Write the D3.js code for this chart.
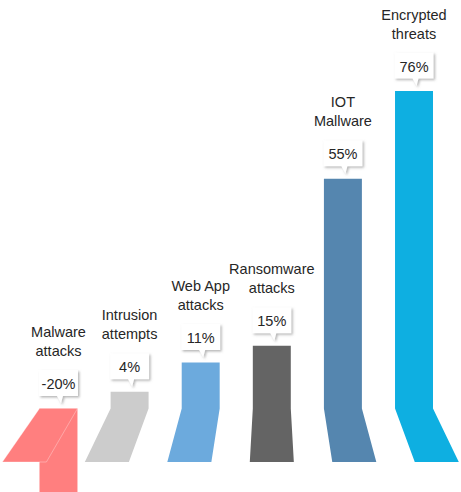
<!DOCTYPE html>
<html>
<head>
<meta charset="utf-8">
<script src="https://cdn.jsdelivr.net/npm/d3@7"></script>
<style>
  html, body { margin: 0; padding: 0; background: #fff; }
  svg { display: block; }
  text { font-family: "Liberation Sans", Arial, Helvetica, sans-serif; fill: #262626; }
</style>
</head>
<body>
<svg id="chart" width="461" height="492"></svg>
<script>
// Threat growth by category (percent change)
const categories = [
  "Malware\nattacks",
  "Intrusion\nattempts",
  "Web App\nattacks",
  "Ransomware\nattacks",
  "IOT\nMallware",
  "Encrypted\nthreats"
];
const values = [-20, 4, 11, 15, 55, 76];
const colors = ["#ff7f7f", "#cccccc", "#6caadd", "#646464", "#5586af", "#0eafe1"];

const svg = d3.select("#chart");

const x = d3.scaleBand()
  .domain(categories)
  .range([39.5, 433])
  .paddingInner(0.466)
  .paddingOuter(0);

const y = d3.scaleLinear()
  .domain([0, 76])
  .range([408.5, 91]);

// Floor strip drawn in perspective below the zero line
const floorTop = y(0);
const floorBottom = 462;
const vanishX = 271.7;
const spread = 1.16;
const project = px => vanishX + spread * (px - vanishX);

// Soft drop shadow for the value callouts
const defs = svg.append("defs");
const f = defs.append("filter").attr("id", "callShadow")
  .attr("x", "-30%").attr("y", "-30%").attr("width", "170%").attr("height", "170%");
f.append("feDropShadow")
  .attr("dx", 1.5).attr("dy", 1.5)
  .attr("stdDeviation", 1.2)
  .attr("flood-color", "#7a7a7a")
  .attr("flood-opacity", 0.55);

const data = categories.map((c, i) => ({ cat: c, value: values[i], color: colors[i] }));

const bars = svg.append("g").selectAll("g.bar").data(data).join("g").attr("class", "bar");

// Negative values hang below the floor as a plain column
bars.filter(d => d.value < 0).append("rect")
  .attr("x", d => x(d.cat))
  .attr("width", x.bandwidth())
  .attr("y", y(0))
  .attr("height", d => y(d.value) - y(0))
  .attr("fill", d => d.color);

// Column plus perspective foot as one outline (positive values),
// or the foot alone laid over the hanging column (negative values)
bars.append("path")
  .attr("d", d => {
    const x0 = x(d.cat), x1 = x0 + x.bandwidth();
    const foot = `L${x1},${floorTop}L${project(x1)},${floorBottom}L${project(x0)},${floorBottom}L${x0},${floorTop}Z`;
    if (d.value < 0) return `M${x0},${floorTop}` + foot;
    const t = y(d.value);
    return `M${x0},${t}L${x1},${t}` + foot;
  })
  .attr("fill", d => d.color)
  .attr("stroke", d => d.value < 0 ? "rgba(255,255,255,0.45)" : "none")
  .attr("stroke-width", 0.7);

// Callouts with values and category labels
const calls = svg.append("g").selectAll("g.call").data(data).join("g")
  .attr("class", "call")
  .attr("transform", d => {
    const cx = x(d.cat) + x.bandwidth() / 2;
    const top = d.value < 0 ? y(0) : y(d.value);
    return `translate(${cx},${top})`;
  });

calls.append("path")
  .attr("d", "M-19.5,-38.5H19.5V-12.5H4.5L2.5,-5L-1.5,-12.5H-19.5Z")
  .attr("fill", "#fff")
  .attr("filter", "url(#callShadow)");

calls.append("text")
  .attr("text-anchor", "middle")
  .attr("y", -19.5)
  .attr("font-size", 14.5)
  .text(d => `${d.value}%`);

calls.append("text")
  .attr("text-anchor", "middle")
  .attr("font-size", 14.5)
  .selectAll("tspan")
  .data(d => d.cat.split("\n"))
  .join("tspan")
  .attr("x", 0)
  .attr("y", (t, i) => -71.5 + i * 19)
  .text(t => t);
</script>
</body>
</html>
